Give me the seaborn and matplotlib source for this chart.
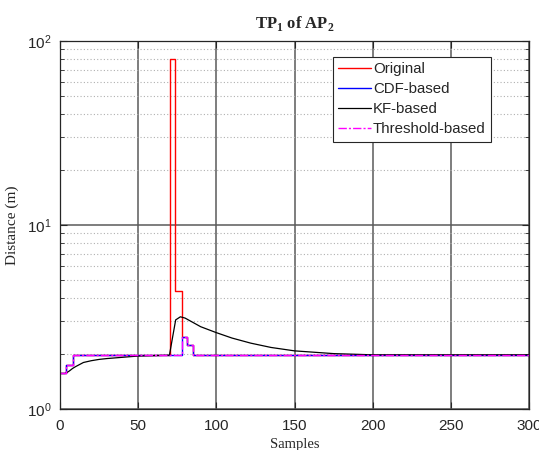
import numpy as np
import pandas as pd
import matplotlib
matplotlib.use("Agg")
import matplotlib.pyplot as plt
import matplotlib.ticker as mticker
import seaborn as sns

# ---- data ----
orig_x = [0, 4, 8, 70.5, 73.7, 78, 81, 85, 300]
orig_y = [1.56, 1.73, 1.97, 80.0, 4.4, 2.47, 2.23, 1.97, 1.97]

cdf_x = [0, 4, 8, 78, 81, 85, 300]
cdf_y = [1.56, 1.73, 1.97, 2.47, 2.23, 1.97, 1.97]

kf_x = [0, 3, 4, 6, 8, 10, 15, 20, 25, 30, 40, 50, 60, 70, 72, 74, 77, 80,
        90, 100, 110, 122, 135, 150, 175, 200, 300]
kf_y = [1.56, 1.56, 1.57, 1.61, 1.66, 1.70, 1.79, 1.83, 1.86, 1.88, 1.91,
        1.94, 1.95, 1.96, 2.45, 3.05, 3.17, 3.12, 2.80, 2.60, 2.43, 2.28,
        2.16, 2.07, 2.00, 1.97, 1.97]

thr_x = [0, 4, 8, 78, 81, 85, 300]
thr_y = [1.56, 1.73, 1.97, 2.47, 2.23, 1.97, 1.97]

xticks = [0, 50, 100, 150, 200, 250, 300]
title = "TP$_\\mathbf{1}$ of AP$_\\mathbf{2}$"

sns.set_style("ticks")
plt.rcParams["font.family"] = ["Liberation Sans", "DejaVu Sans"]
plt.rcParams["mathtext.fontset"] = "custom"
plt.rcParams["mathtext.rm"] = "Liberation Serif"
plt.rcParams["mathtext.bf"] = "Liberation Serif:bold"
plt.rcParams["mathtext.sf"] = "Liberation Sans"

fig = plt.figure(figsize=(5.39, 4.5), dpi=100)
ax = fig.add_axes([60 / 539, 41 / 450, 469 / 539, 368 / 450])

df_o = pd.DataFrame({"x": orig_x, "y": orig_y})
df_c = pd.DataFrame({"x": cdf_x, "y": cdf_y})
df_k = pd.DataFrame({"x": kf_x, "y": kf_y})
df_t = pd.DataFrame({"x": thr_x, "y": thr_y})

sns.lineplot(data=df_o, x="x", y="y", ax=ax, color="#ff0000", lw=1.0,
             drawstyle="steps-post", estimator=None, sort=False, label="Original")
sns.lineplot(data=df_c, x="x", y="y", ax=ax, color="#0000ff", lw=1.0,
             drawstyle="steps-post", estimator=None, sort=False, label="CDF-based")
sns.lineplot(data=df_k, x="x", y="y", ax=ax, color="#000000", lw=0.9,
             estimator=None, sort=False, label="KF-based")
sns.lineplot(data=df_t, x="x", y="y", ax=ax, color="#ff00ff", lw=1.0,
             drawstyle="steps-post", estimator=None, sort=False,
             label="Threshold-based")
ax.lines[-1].set_dashes([6, 1.5, 1.5, 1.5])

ax.set_yscale("log")
ax.set_ylim(1, 100)
ax.set_xlim(0, 300)
ax.set_xticks(xticks)
ax.set_xticklabels([str(t) for t in xticks])
ax.yaxis.set_major_locator(mticker.FixedLocator([1, 10, 100]))
ax.yaxis.set_major_formatter(
    mticker.FuncFormatter(lambda v, p: r"$\mathsf{10^{%d}}$" % round(np.log10(v))))
ax.yaxis.set_minor_locator(mticker.LogLocator(base=10, subs=np.arange(2, 10)))
ax.yaxis.set_minor_formatter(mticker.NullFormatter())

ax.grid(True, which="major", color="#5a5a5a", lw=1.1, ls="-")
ax.grid(True, which="minor", axis="y", color="#b0b0b0", lw=0.8, ls=(0, (1, 2)))
ax.set_axisbelow(True)

for s in ax.spines.values():
    s.set_color("#262626")
    s.set_linewidth(0.9)
    s.set_visible(True)

ax.tick_params(which="both", direction="in", top=True, right=True,
               colors="#262626", labelcolor="#262626")
ax.tick_params(which="major", length=5, labelsize=11)
ax.tick_params(which="minor", length=3)
ax.tick_params(axis="x", pad=7)
ax.tick_params(axis="y", pad=6)

ax.set_title(title, fontsize=12, fontweight="bold", family="Liberation Serif",
             pad=9)
ax.set_xlabel("Samples", fontsize=10.5, family="Liberation Serif", labelpad=4)
ax.set_ylabel("Distance (m)", fontsize=11, family="Liberation Serif", labelpad=6)

leg = ax.legend(loc="upper right", bbox_to_anchor=(491 / 539, 1 - 57 / 450),
                bbox_transform=fig.transFigure, borderaxespad=0,
                fontsize=10.8, frameon=True, fancybox=False, framealpha=1,
                edgecolor="#262626", handlelength=2.2, handletextpad=0.15,
                labelspacing=0.4, borderpad=0.35)
leg.get_frame().set_linewidth(0.8)

fig.savefig("out.png", dpi=100)
